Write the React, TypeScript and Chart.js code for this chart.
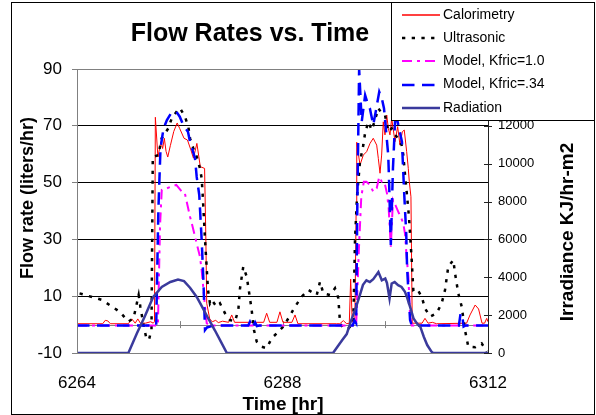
import React, { useEffect, useRef } from "react";
import { Chart, registerables } from "chart.js";

Chart.register(...registerables);

const FONT = '"Liberation Sans", Arial, Helvetica, sans-serif';

const T0 = 6264;
const X_TICKS = [6264, 6288, 6312];
const X_MINOR = [6264, 6276, 6288, 6300, 6312];
const LEFT_TICKS = [-10, 10, 30, 50, 70, 90];
const RIGHT_TICKS = [0, 2000, 4000, 6000, 8000, 10000, 12000, 14000];

const SERIES_LABELS = [
  "Calorimetry",
  "Ultrasonic",
  "Model, Kfric=1.0",
  "Model, Kfric=.34",
  "Radiation",
];

// hours after T0
const CAL_T = [
  0, 3.0, 3.3, 3.6, 3.9, 6.0, 6.4, 6.8, 7.1, 7.4,
  8.0, 8.6, 8.9, 9.05, 9.15, 9.45, 9.8, 10.0, 10.2, 10.4,
  10.6, 10.9, 11.3, 11.7, 12.0, 12.5, 12.9, 13.3, 13.6, 14.0,
  14.4, 14.9, 15.05, 15.15, 15.5, 15.8, 16.2, 16.5, 17.0, 17.7,
  18.07, 18.4, 21.8, 22.15, 22.5, 23.35, 23.7, 24.05, 25.1, 25.46,
  25.8, 30.3, 30.7, 31.1, 31.5, 31.8, 31.96, 32.15, 32.45, 32.6,
  32.67, 33.05, 33.44, 33.83, 34.22, 34.6, 35.0, 35.19, 35.39, 35.58,
  35.77, 35.97, 36.17, 36.36, 36.55, 36.75, 37.14, 37.45, 37.72, 37.99,
  38.22, 38.5, 38.69, 38.81, 39.0, 39.15, 40.3, 40.64, 41.0, 41.5,
  42.0, 45.5, 45.9, 46.5, 46.9, 47.3, 47.6, 47.85, 48,
];
const CAL_V = [
  0.3, 0.3, 1.5, 1.3, 0.3, 0.3, 2.0, 0.5, 2.0, 0.5,
  0.5, 1.0, 0.5, 1.0, 73, 59, 64.4, 62, 65.6, 61,
  59, 63, 68, 71, 69, 65.6, 65, 61.5, 58.6, 63.8,
  55.6, 55, 30, 7.5, 2, 1, 1.5, 0.7, 1.2, 0.8,
  3.4, 0.8, 0.8, 4, 0.8, 0.8, 4.5, 0.8, 0.8, 3.4,
  0.3, 0.3, 0.3, 1.4, 0.3, 0.5, 16, 1, 1, 40,
  64.2, 56.2, 59.7, 60.9, 63.8, 65.6, 63.2, 58.5, 53.3, 59.7,
  71.4, 66.8, 73.8, 69.1, 66.8, 72.6, 64.4, 69.7, 63.2, 67.9,
  68.5, 60.9, 55, 50.3, 45, 0.5, 0.5, 2.2, 0.5, 0.8,
  0.3, 0.5, 3.4, 6.9, 5.5, 0.5, 0.5, 2.2, 1,
];

const US_T = [
  0.3, 2.9, 5.0, 6.0, 6.6, 7.2, 7.4, 7.8, 8.1, 8.4,
  8.7, 8.85, 9.5, 9.89, 10.66, 11.06, 11.64, 12.03, 12.61, 13.0,
  13.2, 13.58, 13.98, 14.36, 14.56, 14.68, 14.95, 15.3, 15.53, 15.73,
  16.3, 16.7, 17.28, 17.87, 18.45, 18.84, 19.04, 19.42, 19.82, 20.0,
  20.2, 20.4, 20.67, 20.99, 21.57, 22.15, 22.74, 23.32, 24.09, 24.68,
  25.46, 26.24, 27.01, 28.0, 28.38, 28.77, 29.55, 30.13, 30.52, 30.72,
  31.1, 31.65, 32.27, 32.47, 32.7, 33.05, 33.44, 33.64, 34.02, 34.42,
  34.8, 35.19, 35.58, 35.97, 36.36, 36.75, 37.14, 37.52, 37.92, 38.11,
  38.31, 38.5, 38.77, 39.09, 39.28, 39.67, 40.26, 40.64, 41.23, 42.0,
  42.59, 42.98, 43.36, 43.95, 44.15, 44.53, 44.93, 45.31, 45.7, 46.5,
  47.26, 47.85,
];
const US_V = [
  11, 8.7, 4.5, 1.1, 2.2, 10.4, 6.3, -0.7, -4.8, -5.4,
  -1.8, 59, 59.7, 65.6, 69.1, 72.6, 75, 76.2, 73.2, 69.7,
  65.6, 62.1, 59.1, 55, 51.5, 45.6, 30, 12.2, 7.5, 8.7,
  6.3, 7.5, 4, 1.6, 1.1, 5.1, 12.8, 20.4, 16.9, 13.3,
  9.3, 5.1, -1.9, -6, -7.8, -8.3, -4.8, -3.1, -0.7, 2.2,
  6.3, 9.8, 12.2, 10.4, 15.1, 11, 10.4, 12.8, 9.3, 0.5,
  -1.3, -1.5, 0.5, 30, 45, 57.4, 63.2, 67.4, 71.4, 68.5,
  72, 76.2, 74.4, 73.8, 67.9, 69.1, 66.8, 65.6, 63.2, 59.7,
  52.7, 46.8, 38, 22.7, 12.2, 12.8, 9.8, 5.7, 2.8, 4,
  7.5, 12.2, 20.4, 22.7, 18.1, 11, 6.3, -1.9, -7.8, -8,
  -6.6, -9.5,
];

const M10_T = [
  0, 9.45, 9.7, 9.9, 10.5, 11.0, 11.6, 12.4, 12.6, 13.2,
  13.4, 14.36, 14.56, 14.95, 15.15, 15.5, 32.6, 32.9, 33.2, 33.5,
  33.8, 34.2, 34.6, 35.0, 35.3, 35.6, 35.9, 36.2, 36.4, 36.65,
  36.9, 37.2, 37.6, 37.8, 38.1, 38.3, 38.5, 38.7, 38.9, 39.1,
  48,
];
const M10_V = [
  -0.3, -0.3, 35, 47.4, 48, 48.6, 49.2, 46.2, 46.2, 38,
  35.7, 23.9, 19.2, 6.3, 0.5, -0.3, -0.3, 25, 45, 50.3,
  50.3, 49.2, 46.8, 48, 52, 50.3, 50.3, 46.2, 41, 27.4,
  43.9, 42, 39.2, 38, 35.7, 32.1, 23.9, 16.9, 2.8, -0.3,
  -0.3,
];

const M34_T = [
  0, 9.25, 9.5, 9.75, 10.1, 10.5, 11.1, 11.6, 12.0, 12.4,
  12.96, 13.2, 13.78, 13.98, 14.28, 14.56, 14.77, 14.95, 15.18, 15.53,
  16.0, 20.0, 20.2, 20.5, 20.8, 21.0, 21.3, 32.2, 32.4, 32.6,
  32.75, 32.95, 33.25, 33.65, 34.0, 34.2, 34.6, 34.95, 35.3, 35.6,
  35.85, 36.0, 36.35, 36.45, 36.65, 36.9, 37.2, 37.55, 37.95, 38.2,
  38.45, 38.55, 38.9, 39.1, 44.6, 44.8, 45.0, 45.15, 45.4, 48,
];
const M34_V = [
  -0.3, -0.3, 40, 62, 69, 72, 75, 75, 73.2, 70.3,
  67.9, 64.4, 58.6, 52, 45.6, 29.8, 15, -1.9, -1, -0.7,
  -0.3, -0.3, 1, -1, 0.8, -0.5, -0.3, -0.3, 1.5, 0.5,
  45, 90, 71.4, 80.8, 77.3, 76.2, 70.3, 76, 82, 79.7,
  76.2, 71.4, 59.7, 50, 28, 55, 75, 70, 64.4, 47,
  32, 20, 1.6, -0.3, -0.3, 4, 3, -0.7, -0.3, -0.3,
];

const RAD_T = [
  0, 6.0, 7.0, 7.9, 8.9, 9.9, 10.9, 11.8, 12.5, 13.2,
  14.0, 14.6, 15.3, 16.1, 16.8, 17.5, 29.9, 31.0, 31.5, 32.0,
  32.5, 33.0, 33.4, 33.8, 34.2, 34.6, 35.2, 35.6, 36.0, 36.2,
  36.5, 36.75, 37.1, 37.5, 37.9, 38.3, 38.5, 38.9, 39.3, 39.7,
  40.1, 40.5, 40.9, 41.4, 41.6, 48,
];
const RAD_V = [
  0, 0, 1040, 1910, 2960, 3490, 3750, 3880, 3800, 3450,
  2950, 2450, 1850, 1200, 600, 0, 0, 700, 1000, 1700,
  2300, 3000, 3600, 3840, 3750, 3900, 4280, 3840, 3930, 3700,
  2880, 3670, 3750, 3580, 3490, 3230, 3000, 2440, 1830, 1560,
  1380, 860, 420, 70, 0, 0,
];

const STYLES = [
  { color: "#ff0000", width: 1, dash: [] as number[] },
  { color: "#000000", width: 2.5, dash: [3.3, 6.4] },
  { color: "#ff00ff", width: 2, dash: [10, 5, 3, 5] },
  { color: "#0000ff", width: 2.5, dash: [12.5, 7.5] },
  { color: "#3a3a9c", width: 2.5, dash: [] as number[] },
];

const pts = (ts: number[], vs: number[]) => {
  const n = Math.min(ts.length, vs.length);
  const out: { x: number; y: number }[] = [];
  for (let i = 0; i < n; i++) out.push({ x: T0 + ts[i], y: vs[i] });
  return out;
};

const decor = {
  id: "decor",
  beforeDatasetsDraw(chart: any) {
    const { ctx, chartArea: a, scales } = chart;
    const y0 = scales.y.getPixelForValue(0);
    ctx.save();
    ctx.strokeStyle = "#808080";
    ctx.lineWidth = 1;
    ctx.beginPath();
    ctx.moveTo(a.left, Math.round(y0) + 0.5);
    ctx.lineTo(a.right, Math.round(y0) + 0.5);
    for (const t of X_MINOR) {
      const x = Math.round(scales.x.getPixelForValue(t)) + 0.5;
      ctx.moveTo(x, y0 - 3.5);
      ctx.lineTo(x, y0 + 3.5);
    }
    ctx.stroke();
    ctx.restore();
  },
  afterDraw(chart: any) {
    const { ctx, chartArea: a, scales } = chart;
    ctx.save();
    // plot border
    ctx.strokeStyle = "#808080";
    ctx.lineWidth = 1;
    ctx.strokeRect(a.left + 0.5, a.top + 0.5, a.right - a.left, a.bottom - a.top);
    // right axis line + crossing ticks
    ctx.strokeStyle = "#222";
    ctx.beginPath();
    ctx.moveTo(a.right + 0.5, a.top);
    ctx.lineTo(a.right + 0.5, a.bottom + 1);
    for (const v of RIGHT_TICKS) {
      const y = Math.round(scales.y1.getPixelForValue(v)) + 0.5;
      ctx.moveTo(a.right - 4, y);
      ctx.lineTo(a.right + 4, y);
    }
    ctx.stroke();

    // outer border
    ctx.strokeStyle = "#000";
    ctx.strokeRect(11.5, 2.5, 583, 412);

    // title
    ctx.fillStyle = "#000";
    ctx.font = `bold 25px ${FONT}`;
    ctx.textAlign = "center";
    ctx.textBaseline = "alphabetic";
    ctx.fillText("Flow Rates vs. Time", 250, 41);

    // axis titles
    ctx.font = `bold 19px ${FONT}`;
    ctx.fillText("Time [hr]", 283, 410);

    ctx.save();
    ctx.translate(28, 198);
    ctx.rotate(-Math.PI / 2);
    ctx.font = `bold 18px ${FONT}`;
    ctx.textBaseline = "middle";
    ctx.fillText("Flow rate (liters/hr)", 0, 0);
    ctx.restore();

    ctx.save();
    ctx.translate(568, 232);
    ctx.rotate(-Math.PI / 2);
    ctx.font = `bold 19px ${FONT}`;
    ctx.textBaseline = "middle";
    ctx.fillText("Irradiance KJ/hr-m2", 0, 0);
    ctx.restore();

    // legend
    ctx.fillStyle = "#fff";
    ctx.fillRect(391, 2, 204, 119);
    ctx.strokeStyle = "#000";
    ctx.lineWidth = 1;
    ctx.strokeRect(391.5, 2.5, 203, 118);
    ctx.font = `14px ${FONT}`;
    ctx.textAlign = "left";
    ctx.textBaseline = "middle";
    SERIES_LABELS.forEach((lab, i) => {
      const y = 15 + i * 23.2;
      const s = STYLES[i];
      ctx.save();
      ctx.strokeStyle = s.color;
      ctx.lineWidth = i === 0 ? 1.5 : s.width;
      ctx.setLineDash(s.dash);
      ctx.beginPath();
      ctx.moveTo(402, Math.round(y));
      ctx.lineTo(440, Math.round(y));
      ctx.stroke();
      ctx.restore();
      ctx.fillStyle = "#000";
      ctx.fillText(lab, 443, y);
    });
    ctx.restore();
  },
};

export default function App() {
  const ref = useRef<HTMLCanvasElement | null>(null);
  useEffect(() => {
    if (!ref.current) return;
    Chart.defaults.font.family = FONT;
    const series = [
      pts(CAL_T, CAL_V),
      pts(US_T, US_V),
      pts(M10_T, M10_V),
      pts(M34_T, M34_V),
      pts(RAD_T, RAD_V),
    ];
    const orders = [5, 4, 3, 2, 1];
    const chart = new Chart(ref.current, {
      type: "line",
      data: {
        datasets: series.map((d, i) => ({
          label: SERIES_LABELS[i],
          data: d,
          borderColor: STYLES[i].color,
          backgroundColor: STYLES[i].color,
          borderWidth: STYLES[i].width,
          borderDash: STYLES[i].dash,
          borderCapStyle: "butt",
          pointRadius: 0,
          tension: 0,
          fill: false,
          order: orders[i],
          yAxisID: i === 4 ? "y1" : "y",
        })),
      },
      options: {
        responsive: false,
        animation: false,
        devicePixelRatio: 1,
        layout: { padding: { top: 69, left: 0, right: 0, bottom: 0 } },
        plugins: { legend: { display: false }, title: { display: false }, tooltip: { enabled: false } },
        scales: {
          x: {
            type: "linear",
            min: 6264,
            max: 6312,
            afterBuildTicks: (s: any) => {
              s.ticks = X_TICKS.map((v) => ({ value: v }));
            },
            afterFit: (s: any) => {
              s.height = 62;
            },
            grid: { display: false, drawTicks: false, tickLength: 0 },
            border: { display: false },
            ticks: {
              font: { size: 17, family: FONT },
              color: "#000",
              padding: 20,
              maxRotation: 0,
              autoSkip: false,
              callback: (v: any) => String(v),
            },
          },
          y: {
            type: "linear",
            position: "left",
            min: -10,
            max: 90,
            afterBuildTicks: (s: any) => {
              s.ticks = LEFT_TICKS.map((v) => ({ value: v }));
            },
            afterFit: (s: any) => {
              s.width = 77;
            },
            grid: {
              color: (c: any) => (c.tick && (c.tick.value === -10 || c.tick.value === 90) ? "#808080" : "#000000"),
              lineWidth: 1,
              drawTicks: true,
              tickLength: 5,
              tickColor: "#808080",
            },
            border: { display: true, color: "#808080" },
            ticks: {
              font: { size: 17, family: FONT },
              color: "#000",
              padding: 10,
              autoSkip: false,
              callback: (v: any) => String(v),
            },
          },
          y1: {
            type: "linear",
            position: "right",
            min: 0,
            max: 15000,
            afterBuildTicks: (s: any) => {
              s.ticks = RIGHT_TICKS.map((v) => ({ value: v }));
            },
            afterFit: (s: any) => {
              s.width = 108;
            },
            grid: { drawOnChartArea: false, drawTicks: false, tickLength: 0 },
            border: { display: false },
            ticks: {
              font: { size: 13, family: FONT },
              color: "#000",
              padding: 10,
              autoSkip: false,
              callback: (v: any) => String(v),
            },
          },
        },
      } as any,
      plugins: [decor],
    });
    return () => chart.destroy();
  }, []);
  return (
    <div style={{ position: "absolute", left: 0, top: 0, width: 596, height: 415, background: "#fff" }}>
      <canvas ref={ref} width={596} height={415} style={{ display: "block", width: 596, height: 415 }} />
    </div>
  );
}
